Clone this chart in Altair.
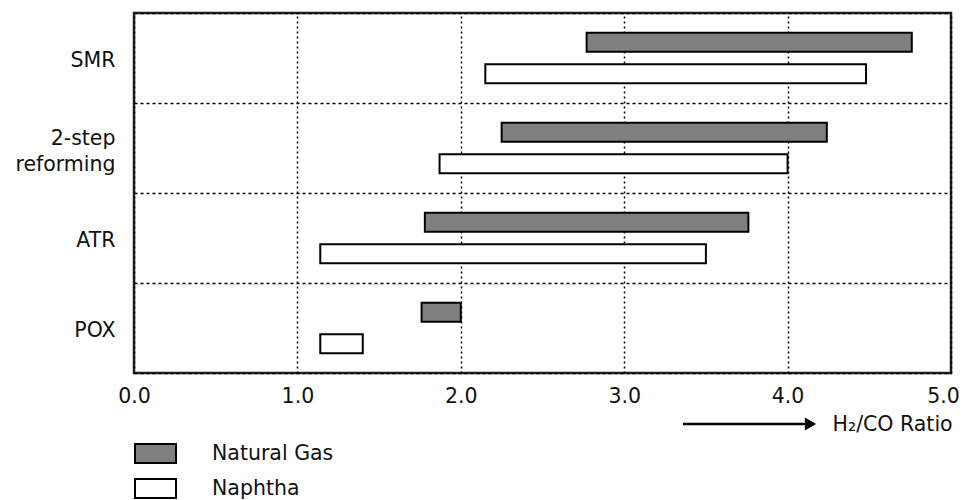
import altair as alt
import pandas as pd

# ---- data ----
processes = ["SMR", "2-step reforming", "ATR", "POX"]
feeds = ["Natural Gas", "Naphtha"]
ng_start = [2.77, 2.25, 1.78, 1.76]
ng_end = [4.76, 4.24, 3.76, 2.00]
naph_start = [2.15, 1.87, 1.14, 1.14]
naph_end = [4.48, 4.00, 3.50, 1.40]
x_ticks = [0, 1, 2, 3, 4, 5]
x_domain = [0, 5]
axis_title = "H\u2082/CO Ratio"
arrow_from = [3.36]
arrow_to = [4.14]

rows = []
for i, p in enumerate(processes):
    rows.append({"process": p, "feed": feeds[0], "start": ng_start[i], "end": ng_end[i]})
    rows.append({"process": p, "feed": feeds[1], "start": naph_start[i], "end": naph_end[i]})
df = pd.DataFrame(rows)
arrow_df = pd.DataFrame({"a": arrow_from, "b": arrow_to})

FONT = "DejaVu Sans"
FS = 20.5
TXT = "#111111"

xscale = alt.Scale(domain=x_domain, nice=False, zero=True)

bars = alt.Chart(df).mark_bar(stroke="black", strokeWidth=2, opacity=1).encode(
    x=alt.X(
        "start:Q",
        scale=xscale,
        axis=alt.Axis(
            values=x_ticks, format=".1f", grid=True, gridDash=[2, 3], gridColor="black",
            gridWidth=1.5, gridOpacity=1, ticks=False, domain=False, labelFontSize=FS,
            labelPadding=13, labelColor=TXT, labelFont=FONT, labelFlush=False,
            labelOffset={"condition": {"test": "datum.value == 5", "value": -8}, "value": 0},
            title=axis_title, titleX=698, titleY=51, titleAlign="left",
            titleBaseline="middle", titleFontSize=FS, titleFontWeight="normal",
            titleFont=FONT, titleColor=TXT, titleAnchor="start",
        ),
    ),
    x2="end:Q",
    y=alt.Y(
        "process:N",
        sort=processes,
        scale=alt.Scale(paddingInner=0, paddingOuter=0),
        axis=alt.Axis(
            title=None, grid=True, tickBand="extent", gridDash=[3, 3], gridColor="black",
            gridWidth=1.5, gridOpacity=1, ticks=False, domain=False,
            labelExpr="split(datum.label, ' ')", labelFontSize=FS, labelLineHeight=26,
            labelPadding=19, labelColor=TXT, labelFont=FONT, labelAlign="right",
            labelOffset={"condition": {"test": "indexof('' + datum.value, ' ') >= 0", "value": -10},
                         "value": 2},
        ),
    ),
    yOffset=alt.YOffset("feed:N", sort=feeds, scale=alt.Scale(paddingInner=0.4, paddingOuter=0.62)),
    color=alt.Color(
        "feed:N",
        sort=feeds,
        scale=alt.Scale(domain=feeds, range=["#7f7f7f", "#ffffff"]),
        legend=alt.Legend(
            orient="none", legendX=10, legendY=429, title=None, padding=0,
            symbolType="M-2,-0.927H2V0.927H-2Z", symbolSize=420, symbolStrokeColor="black",
            symbolStrokeWidth=2, symbolOpacity=1, labelFontSize=FS, labelFont=FONT,
            labelColor=TXT, labelOffset=45, rowPadding=8,
        ),
    ),
)

arrow_line = alt.Chart(arrow_df).mark_rule(strokeWidth=2.5, color="black").encode(
    x=alt.X("a:Q", scale=xscale), x2="b:Q", y=alt.value(411)
)
arrow_head = alt.Chart(arrow_df).mark_point(
    shape="triangle-right", filled=True, color="black", size=170, opacity=1
).encode(x=alt.X("b:Q", scale=xscale), y=alt.value(411))

chart = (
    alt.layer(bars, arrow_line, arrow_head)
    .properties(
        width=817,
        height=360,
        autosize=alt.AutoSizeParams(type="none"),
        padding={"left": 126, "top": 5, "right": 10, "bottom": 127},
        background="white",
    )
    .configure(font=FONT)
    .configure_view(stroke="#222222", strokeWidth=2.5)
)

chart.save("out.html", embed_options={"renderer": "svg", "actions": False})
